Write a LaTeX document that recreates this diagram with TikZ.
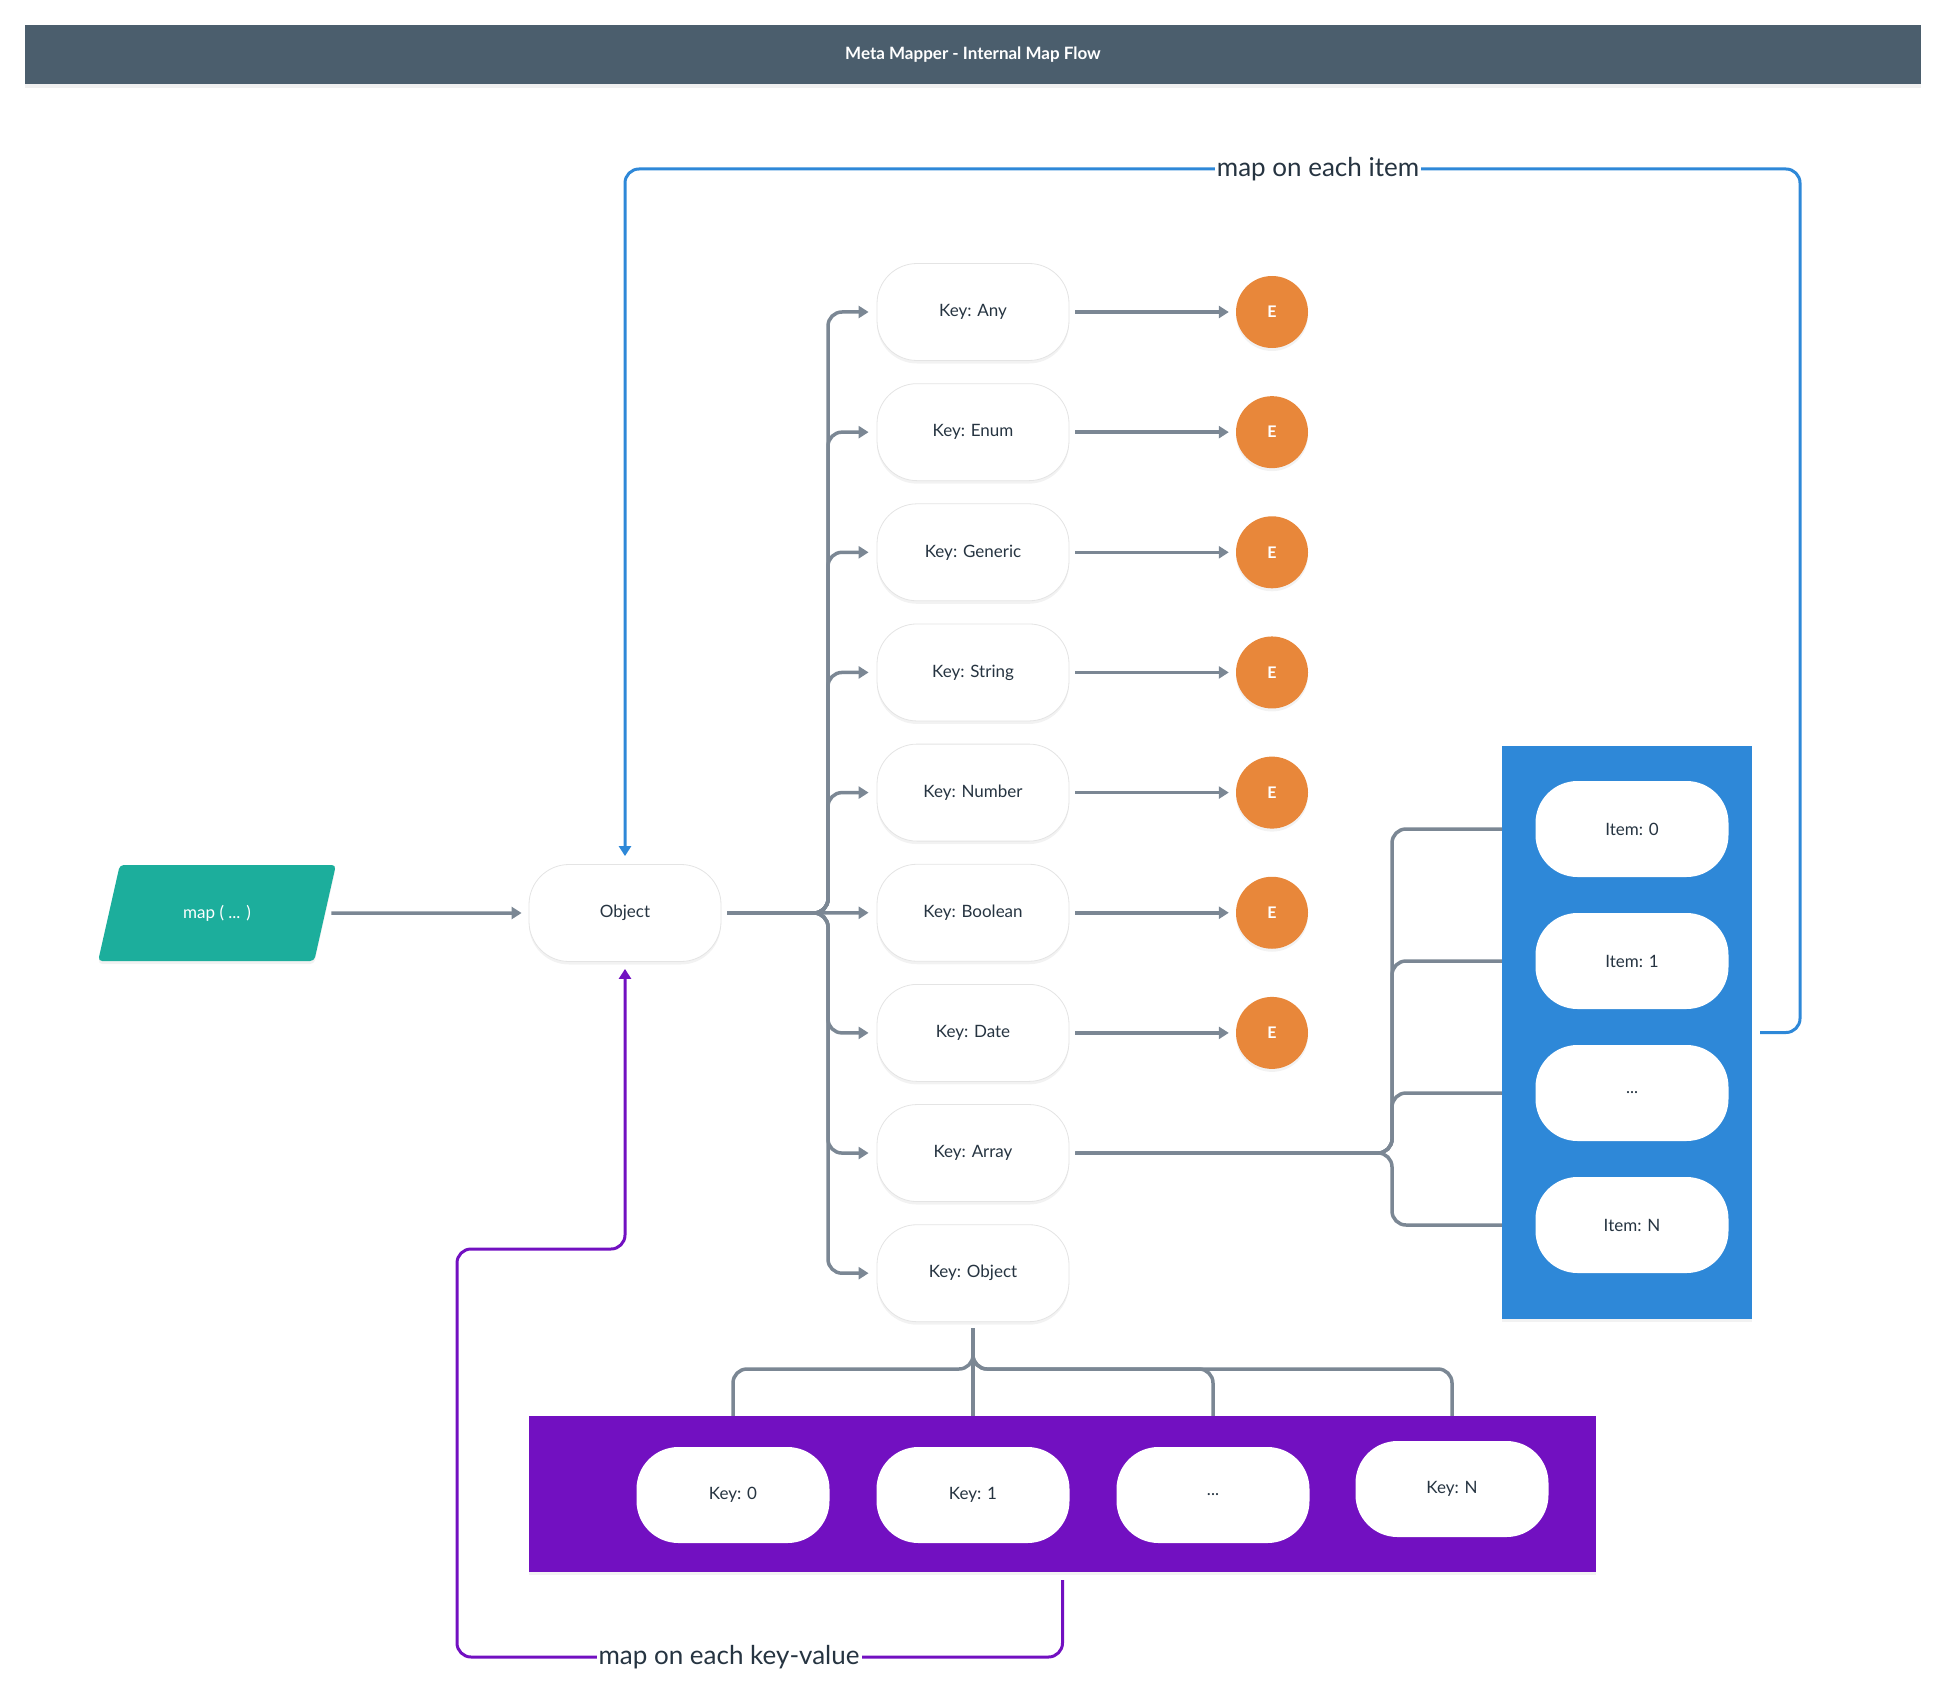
\documentclass[tikz,border=0pt]{standalone}
\usepackage{fontspec}
\setmainfont{Lato}
\usetikzlibrary{shapes.geometric,shadows,arrows.meta}
\definecolor{titlebar}{HTML}{4B5E6D}
\definecolor{conngray}{HTML}{7B8794}
\definecolor{tealc}{HTML}{1CAE9C}
\definecolor{orangec}{HTML}{E8873A}
\definecolor{bluec}{HTML}{2E88D8}
\definecolor{purplec}{HTML}{7210C1}
\definecolor{textdark}{HTML}{263441}
\definecolor{nodeborder}{HTML}{E4E4E4}
\begin{document}
\begin{tikzpicture}[x=1pt,y=-1pt,
  conn/.style={draw=conngray, line width=3.5pt, rounded corners=14pt},
  arr/.style={-{Triangle[length=10pt,width=12pt]}},
  loopline/.style={line width=3pt, rounded corners=14pt},
  softshadow/.style={drop shadow={opacity=0.10, shadow xshift=0pt, shadow yshift=-3pt}},
  keynode/.style={draw=nodeborder, line width=0.8pt, fill=white, rounded corners=40pt,
    minimum width=192pt, minimum height=97pt, inner sep=0pt, text=textdark,
    font=\fontsize{17}{20}\selectfont, softshadow},
  itemnode/.style={fill=white, rounded corners=42pt, minimum width=193pt, minimum height=96pt,
    inner sep=0pt, text=textdark, font=\fontsize{17}{20}\selectfont},
  ecirc/.style={circle, fill=orangec, minimum size=72pt, inner sep=0pt, text=white,
    font=\fontsize{16}{19}\selectfont\bfseries, softshadow},
  lbl/.style={fill=white, inner sep=2pt, text=textdark, font=\fontsize{26}{30}\selectfont},
]
\useasboundingbox (0,0) rectangle (1946,1704);

% title bar
\node[fill=titlebar, minimum width=1896pt, minimum height=59pt, inner sep=0pt, text=white,
  font=\fontsize{17}{20}\selectfont\bfseries, drop shadow={opacity=0.12, shadow xshift=0pt, shadow yshift=-4pt}]
  (title) at (973,54.5) {Meta Mapper - Internal Map Flow};

% input parallelogram
\node[trapezium, trapezium left angle=70, trapezium right angle=110, trapezium stretches=true,
  minimum width=238pt, minimum height=96pt, fill=tealc, text=white, rounded corners=4pt,
  font=\fontsize{17}{20}\selectfont, softshadow] (map) at (217,913) {map ( ... )};

% object
\node[keynode] (obj) at (625,913) {Object};
\draw[conn, arr, shorten <=6pt, shorten >=7pt] (map.east) -- (obj.west);

% keys
\foreach \n/\t [count=\i from 0] in {any/Any, enum/Enum, gen/Generic, str/String, num/Number, bool/Boolean, date/Date, arr/Array, kobj/Object}
  \node[keynode] (k\n) at (973, 312+120.15*\i) {Key: \t};

\coordinate (tr) at (828,913);
\foreach \n in {any, enum, gen, str, num, date, arr, kobj}
  \draw[conn, arr, shorten <=6pt, shorten >=8pt] (obj.east) -- (tr) |- (k\n.west);
\draw[conn, arr, shorten <=6pt, shorten >=8pt] (obj.east) -- (kbool.west);

% E circles
\foreach \n [count=\i from 0] in {any, enum, gen, str, num, bool, date} {
  \node[ecirc] (e\n) at (1272, 312+120.15*\i) {E};
  \draw[conn, arr, shorten <=6pt, shorten >=7pt] (k\n.east) -- (e\n.west);
}

% array box
\node[fill=bluec, minimum width=250pt, minimum height=573pt, inner sep=0pt, softshadow] (blue) at (1627,1032.5) {};
\node[itemnode] (it0) at (1632,829) {Item: 0};
\node[itemnode] (it1) at (1632,961) {Item: 1};
\node[itemnode] (it2) at (1632,1093) {...};
\node[itemnode] (it3) at (1632,1225) {Item: N};
\coordinate (atr) at (1392,1153);
\foreach \i in {0,1,2,3}
  \draw[conn, shorten <=6pt] (karr.east) -- (atr) |- (blue.west |- it\i);

% object box
\node[fill=purplec, minimum width=1067pt, minimum height=156pt, inner sep=0pt, softshadow] (pbox) at (1062.5,1494) {};
\node[itemnode] (pk0) at (733,1495) {Key: 0};
\node[itemnode] (pk1) at (973,1495) {Key: 1};
\node[itemnode] (pk2) at (1213,1495) {...};
\node[itemnode] (pk3) at (1452,1489) {Key: N};
\coordinate (otr) at (973,1369);
\foreach \i in {0,2,3}
  \draw[conn, shorten <=6pt] (kkobj.south) -- (otr) -| (pk\i |- pbox.north);
\draw[conn, shorten <=6pt] (kkobj.south) -- (pk1 |- pbox.north);

% loop: map on each item
\coordinate (b1) at (1800,169);
\coordinate (b2) at (625,169);
\draw[loopline, draw=bluec, color=bluec, arr, shorten <=8pt, shorten >=8pt] (blue.east) -| (b1) -- (b2) -- (obj.north);
\node[lbl] (lblitem) at (1318,169) {map on each item};

% loop: map on each key-value
\coordinate (c1) at (1062.5,1657);
\coordinate (c2) at (457,1657);
\coordinate (c3) at (457,1249);
\coordinate (c4) at (625,1249);
\draw[loopline, draw=purplec, color=purplec, arr, shorten <=8pt, shorten >=7pt] (pbox.south) -- (c1) -- (c2) -- (c3) -- (c4) -- (obj.south);
\node[lbl] (lblkv) at (729,1657) {map on each key-value};
\end{tikzpicture}
\end{document}
